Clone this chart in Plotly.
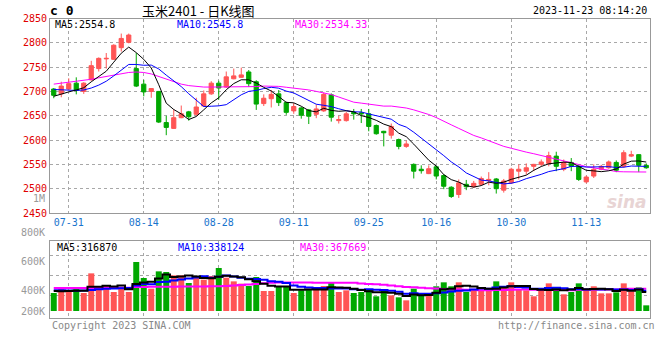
import plotly.graph_objects as go

# ---------------- data ----------------
dates = ["07-27","07-28","07-31","08-01","08-02","08-03","08-04","08-07","08-08","08-09",
         "08-10","08-11","08-14","08-15","08-16","08-17","08-18","08-21","08-22","08-23",
         "08-24","08-25","08-28","08-29","08-30","08-31","09-01","09-04","09-05","09-06",
         "09-07","09-08","09-11","09-12","09-13","09-14","09-15","09-18","09-19","09-20",
         "09-21","09-22","09-25","09-26","09-27","09-28","10-09","10-10","10-11","10-12",
         "10-13","10-16","10-17","10-18","10-19","10-20","10-23","10-24","10-25","10-26",
         "10-27","10-30","10-31","11-01","11-02","11-03","11-06","11-07","11-08","11-09",
         "11-10","11-13","11-14","11-15","11-16","11-17","11-20","11-21","11-22","11-23"]

opens = [2705,2695,2705,2717,2700,2724,2747,2767,2766,2790,
         2801,2747,2715,2700,2700,2636,2624,2646,2658,2653,
         2670,2695,2717,2709,2726,2729,2740,2720,2675,2685,
         2695,2677,2660,2666,2662,2653,2660,2693,2640,2640,
         2657,2656,2654,2630,2618,2610,2601,2587,2550,2540,
         2531,2545,2527,2503,2488,2509,2504,2509,2517,2520,
         2497,2512,2536,2536,2546,2550,2552,2567,2540,2554,
         2546,2514,2526,2540,2543,2554,2546,2567,2570,2548]
highs = [2707,2720,2727,2729,2719,2763,2770,2779,2797,2819,
         2819,2779,2724,2707,2701,2650,2663,2671,2660,2687,
         2702,2721,2722,2741,2747,2749,2744,2723,2694,2703,
         2703,2679,2676,2668,2664,2673,2698,2696,2650,2658,
         2664,2664,2664,2632,2619,2634,2603,2599,2552,2548,
         2548,2547,2530,2505,2519,2518,2516,2525,2534,2522,
         2520,2543,2550,2552,2551,2560,2576,2576,2560,2563,
         2548,2527,2550,2549,2558,2558,2579,2578,2571,2552]
lows = [2686,2688,2703,2694,2695,2722,2741,2747,2765,2782,
        2799,2709,2690,2687,2635,2610,2623,2645,2640,2650,
        2668,2693,2683,2707,2725,2728,2709,2662,2670,2667,
        2670,2652,2654,2644,2633,2645,2658,2638,2634,2638,
        2642,2635,2618,2611,2587,2603,2581,2584,2521,2531,
        2530,2519,2499,2481,2481,2497,2502,2506,2507,2490,
        2492,2510,2519,2529,2536,2546,2546,2536,2536,2536,
        2516,2511,2522,2538,2541,2534,2543,2565,2534,2541]
closes = [2692,2711,2716,2702,2717,2753,2768,2768,2795,2809,
          2816,2711,2699,2706,2637,2626,2646,2654,2648,2668,
          2695,2717,2707,2730,2732,2734,2716,2674,2686,2694,
          2677,2657,2669,2651,2649,2664,2694,2647,2642,2654,
          2654,2654,2628,2613,2615,2628,2587,2592,2536,2537,
          2541,2526,2505,2484,2512,2504,2511,2521,2519,2500,
          2516,2540,2540,2543,2550,2555,2568,2546,2554,2546,
          2519,2524,2540,2546,2555,2538,2574,2570,2548,2543]

ma5 = [2690,2695,2699,2703,2707.6,2719.8,2731.2,2741.6,2760.2,2778.6,
       2791.2,2779.8,2766,2748.2,2713.8,2675.8,2662.8,2653.8,2642.2,2648.4,
       2662.2,2676.4,2687,2703.4,2716.2,2724,2723.8,2717.2,2708.4,2700.8,
       2689.4,2677.6,2676.6,2669.6,2660.6,2658,2665.4,2661,2659.2,2660.2,
       2658.2,2650.2,2646.4,2640.6,2632.8,2627.6,2614.2,2607,2591.6,2576,
       2558.6,2546.4,2529,2518.6,2513.6,2506.2,2503.2,2506.4,2513.4,2511,
       2513.4,2519.2,2523,2527.8,2537.8,2545.6,2551.2,2552.4,2554.6,2553.8,
       2546.6,2537.8,2536.6,2535,2536.8,2540.6,2550.6,2556.6,2557,2554.8]
ma10 = [2704,2703,2702,2702,2703,2707,2713,2721,2732,2743.1,
        2755.5,2755.5,2753.8,2754.2,2746.2,2733.5,2721.3,2709.9,2695.2,2681.1,
        2669,2669.6,2670.4,2672.8,2682.3,2693.1,2700.1,2702.1,2705.9,2708.5,
        2706.7,2700.7,2696.9,2689,2680.7,2673.7,2671.5,2668.8,2664.4,2660.4,
        2658.1,2657.8,2653.7,2649.9,2646.5,2642.9,2632.2,2626.7,2616.1,2604.4,
        2593.1,2580.3,2568,2555.1,2544.8,2532.4,2524.8,2517.7,2516,2512.3,
        2509.8,2511.2,2514.7,2520.6,2524.4,2529.5,2535.2,2537.7,2541.2,2545.8,
        2546.1,2544.5,2544.5,2544.8,2545.3,2543.6,2544.2,2546.6,2546,2545.8]
ma30 = [2715,2717,2718,2720,2722,2725,2728,2731,2734,2737,
        2739,2740,2739,2736,2731,2726,2720,2715,2712,2710,
        2709,2709,2709,2709,2709,2710,2710,2710,2711,2710.9,
        2710.4,2708.6,2707,2705.3,2703.1,2700.1,2697.6,2693.6,2688.5,2683.3,
        2677.9,2676,2673.7,2670.6,2669.8,2669.9,2667.9,2665.9,2662.1,2657.8,
        2652.6,2646.3,2639.5,2631.3,2624,2616.3,2609.5,2604.4,2598.8,2592.4,
        2587,2583.1,2578.8,2575.2,2571.9,2568.3,2564.1,2560.7,2557.8,2554.2,
        2549.7,2545.3,2542.4,2540.2,2538.2,2535.2,2534.7,2534,2534.4,2534.33]

# volumes in thousands of lots
volumes_k = [299,371,327,387,299,625,371,415,315,382,
             315,813,548,371,658,647,592,592,465,564,
             520,581,714,553,492,454,415,564,332,332,
             398,398,299,343,354,382,415,481,315,343,
             299,315,360,244,343,260,227,177,371,277,
             277,410,476,410,476,315,360,343,343,492,
             410,476,360,343,244,343,459,393,277,315,
             459,360,410,293,293,310,459,327,393,94]
vol_ma5_k = [330,328,330,335,336.6,401.8,401.8,419.4,405,421.6,
             359.6,448,474.6,485.8,541,607.4,563.2,572,590.8,572,
             546.6,544.4,568.8,586.4,572,558.8,525.6,495.6,451.4,419.4,
             408.2,404.8,351.8,354,358.4,355.2,358.6,395,389.4,387.2,
             370.6,350.6,326.4,312.2,312.2,304.4,286.8,250.2,275.6,262.4,
             265.8,302.4,362.2,370,409.8,417.4,407.4,380.8,367.4,370.6,
             389.6,412.8,416.2,416.2,366.6,353.2,349.8,356.4,343.2,357.4,
             380.6,360.8,364.2,367.4,363,333.2,353,336.4,356.4,316.87]
vol_ma10_k = [345,343,340,338,340,350,360,368,372,379.1,
              380.7,424.9,447,445.4,481.3,483.5,505.6,523.3,538.3,556.5,
              577,553.8,570.4,588.6,572,552.7,535,532.2,518.9,495.7,
              483.5,465.2,423.7,402.7,388.9,381.7,381.7,373.4,371.7,372.8,
              362.9,354.6,360.7,350.8,349.7,337.5,318.7,288.3,293.9,287.3,
              285.1,294.6,306.2,322.8,336.1,341.6,354.9,371.5,368.7,390.2,
              403.5,410.1,398.5,391.8,368.6,371.4,381.3,386.3,379.7,362,
              366.9,355.3,360.3,355.3,360.2,356.9,356.9,350.3,361.9,338.124]
vol_ma30_k = [383,383,383,383,383,383,383,383,383,384,
              386,398,400,401,402,403,404,405,406,407,
              408,410,412,416,422,430,440,450,462,470,
              472,474,474,473,474,470,470,471,471,470,
              468,455,450,446,436.9,424,411.8,398,394.8,385.3,
              377.2,371.5,363.5,358.8,358.2,353.6,351.8,344.4,344.8,350.1,
              350.5,353.1,355.1,355.1,351.5,350.2,351.6,348.7,347.4,346.5,
              351.8,353.3,355,356.6,355,356.6,364.4,369.4,370.1,367.669]

date_ticks = ["07-31","08-14","08-28","09-11","09-25","10-16","10-30","11-13"]
price_ticks = [2850,2800,2750,2700,2650,2600,2550,2500,2450]
vol_labels = ["800K","600K","400K","200K"]
price_ma_labels = ["MA5:2554.8", "MA10:2545.8", "MA30:2534.33"]
vol_ma_labels = ["MA5:316870", "MA10:338124", "MA30:367669"]

# ---------------- style / layout ----------------
W, H = 660, 360
ML, MR, MT, MB = 50, 10, 18, 42
PW, PH = W - ML - MR, H - MT - MB
RED, GREEN = "#FF5555", "#00A800"
GRID = "#A8A8A8"
FRAME = "#999999"
MONO = "DejaVu Sans Mono"

def px(x):
    return (x - ML) / PW

def py(y):
    return (H - MB - y) / PH

price_top, price_bot = 18.5, 213
vol_top, vol_bot = 241, 318
vol_base_px = 311          # pixel row of zero volume
k_per_px = 16.6            # thousands per pixel

vol_range = [-(vol_bot - vol_base_px) * k_per_px, (vol_base_px - vol_top) * k_per_px]

bar_colors = [RED if c >= o else GREEN for o, c in zip(opens, closes)]

fig = go.Figure()

fig.add_trace(go.Candlestick(
    x=dates, open=opens, high=highs, low=lows, close=closes,
    xaxis="x", yaxis="y", whiskerwidth=0,
    increasing=dict(line=dict(color=RED, width=1), fillcolor=RED),
    decreasing=dict(line=dict(color=GREEN, width=1), fillcolor=GREEN),
    showlegend=False, hoverinfo="skip"))

for series, col in [(ma30, "#FF00FF"), (ma10, "#0000FF"), (ma5, "#000000")]:
    fig.add_trace(go.Scatter(x=dates, y=series, mode="lines", xaxis="x", yaxis="y",
                             line=dict(color=col, width=1), showlegend=False,
                             hoverinfo="skip"))

fig.add_trace(go.Bar(x=dates, y=volumes_k, xaxis="x2", yaxis="y2",
                     marker=dict(color=bar_colors, line=dict(width=0)),
                     width=0.8, showlegend=False, hoverinfo="skip"))

for series, col in [(vol_ma30_k, "#FF00FF"), (vol_ma10_k, "#0000FF"), (vol_ma5_k, "#000000")]:
    fig.add_trace(go.Scatter(x=dates, y=series, mode="lines", xaxis="x2", yaxis="y2",
                             line=dict(color=col, width=2, shape="hvh"),
                             showlegend=False, hoverinfo="skip"))

common_x = dict(type="category", range=[-0.5, len(dates) - 0.5],
                tickmode="array", tickvals=date_ticks, ticktext=date_ticks,
                showgrid=True, gridcolor=GRID, griddash="dot", gridwidth=1,
                showline=True, mirror=True, linecolor=FRAME, linewidth=1,
                ticks="", zeroline=False, fixedrange=True)

fig.update_layout(
    width=W, height=H,
    margin=dict(l=ML, r=MR, t=MT, b=MB),
    paper_bgcolor="white", plot_bgcolor="white",
    boxgap=0.2,
    bargap=0.2,
    showlegend=False,
    xaxis=dict(common_x, domain=[0, 1], anchor="y",
               tickfont=dict(family=MONO, size=10, color="#1874CD"),
               rangeslider=dict(visible=False)),
    xaxis2=dict(common_x, domain=[0, 1], anchor="y2", matches="x",
                showticklabels=False),
    yaxis=dict(domain=[py(price_bot), py(price_top)], range=[2450, 2850],
               tickmode="array", tickvals=price_ticks,
               tickfont=dict(family=MONO, size=10, color="#E00000"),
               showgrid=True, gridcolor=GRID, griddash="dot", gridwidth=1,
               showline=True, mirror=True, linecolor=FRAME, linewidth=1,
               ticks="", zeroline=False, fixedrange=True),
    yaxis2=dict(domain=[py(vol_bot), py(vol_top)], range=vol_range,
                tickmode="array", tickvals=[255, 585, 915],
                showticklabels=False,
                showgrid=True, gridcolor=GRID, griddash="dot", gridwidth=1,
                showline=True, mirror=True, linecolor=FRAME, linewidth=1,
                ticks="", zeroline=False, fixedrange=True),
)

ann = []
def text(x, y, s, color="#000000", size=10, anchor="left", family=MONO, bold=False):
    if bold:
        s = "<b>" + s + "</b>"
    ann.append(dict(x=px(x), y=py(y), xref="paper", yref="paper", text=s,
                    showarrow=False, xanchor=anchor, yanchor="middle",
                    font=dict(family=family, size=size, color=color)))

text(48, 10, "c 0", size=13, bold=True)
text(198, 10, "玉米2401 - 日K线图", size=13, anchor="center", family="Noto Sans CJK SC")
text(649, 11, "2023-11-23 08:14:20", anchor="right")
text(53, 25, price_ma_labels[0])
text(175, 25, price_ma_labels[1], color="#0000FF")
text(293, 25, price_ma_labels[2], color="#FF00FF")
text(47, 199, "1M", color="#999999", anchor="right")
vol_label_rows = [232, 261, 290, 311]
for lab, yy in zip(vol_labels, vol_label_rows):
    text(47, yy, lab, color="#999999", anchor="right")
text(55, 247, vol_ma_labels[0])
text(176, 247, vol_ma_labels[1], color="#0000FF")
text(298, 247, vol_ma_labels[2], color="#FF00FF")
text(50, 325, "Copyright 2023 SINA.COM", color="#888888")
text(657, 325, "http://finance.sina.com.cn", color="#888888", anchor="right")
text(627, 202, "<i>sina</i>", color="#E8D4D4", size=17, anchor="center",
     family="DejaVu Sans", bold=True)

fig.update_layout(annotations=ann)
fig.write_html("out.html", config={"displayModeBar": False, "staticPlot": True},
               post_script="document.body.style.margin='0';document.body.style.overflow='hidden';")
